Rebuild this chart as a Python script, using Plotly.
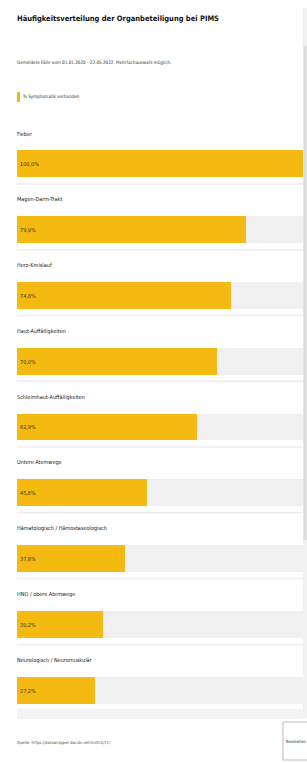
import plotly.graph_objects as go

categories = [
    "Fieber",
    "Magen-Darm-Trakt",
    "Herz-Kreislauf",
    "Haut-Auffälligkeiten",
    "Schleimhaut-Auffälligkeiten",
    "Untere Atemwege",
    "Hämatologisch / Hämostaseologisch",
    "HNO / obere Atemwege",
    "Neurologisch / Neuromuskulär",
]
values = [100.0, 79.9, 74.8, 70.0, 62.9, 45.6, 37.6, 30.2, 27.2]
value_labels = [f"{v:.1f}%".replace(".", ",") for v in values]
track_values = [100.0] * len(categories)

title = "Häufigkeitsverteilung der Organbeteiligung bei PIMS"
subtitle = "Gemeldete Fälle vom 01.01.2020 - 22.05.2022. Mehrfachauswahl möglich."
legend_label = "% Symptomatik vorhanden"
source = "Quelle: https://datawrapper.dwcdn.net/m3tL5/11/"
button_label = "Bearbeiten"

FONT = "DejaVu Sans Condensed, Liberation Sans, sans-serif"
YELLOW = "#f5ba12"
TRACK = "#f0f0f0"

W, H = 307, 763
ML, MR, MT, MB = 17, 4, 131, 40
PW = W - ML - MR
PH = H - MT - MB


def py(pix):
    return (H - MB - pix) / PH


def px(pix):
    return (pix - ML) / PW


fig = go.Figure()
fig.add_trace(go.Bar(
    y=categories, x=track_values, orientation="h", width=0.41,
    marker=dict(color=TRACK, line=dict(width=0)), hoverinfo="skip",
    showlegend=False,
))
fig.add_trace(go.Bar(
    y=categories, x=values, orientation="h", width=0.41,
    marker=dict(color=YELLOW, line=dict(width=0)),
    text=value_labels, textposition="inside", insidetextanchor="start",
    textfont=dict(family=FONT, size=5.5, color="#3a3320"),
    showlegend=False,
))

annotations = []
for c in categories:
    annotations.append(dict(
        x=0, y=c, xref="x", yref="y", text=c, showarrow=False,
        xanchor="left", yanchor="middle", yshift=30, xshift=-2,
        font=dict(family=FONT, size=5.5, color="#1a1a1a"),
    ))

shapes = []
for i in range(len(categories)):
    shapes.append(dict(
        type="line", xref="paper", yref="y", x0=0, x1=px(303),
        y0=i + 0.305, y1=i + 0.305,
        line=dict(color="#eeeeee", width=1.5), layer="below",
    ))

annotations += [
    dict(x=px(15), y=py(19), xref="paper", yref="paper", text=f"<b>{title}</b>",
         showarrow=False, xanchor="left", yanchor="middle",
         font=dict(family=FONT, size=7.5, color="#111111")),
    dict(x=px(15), y=py(62), xref="paper", yref="paper", text=subtitle,
         showarrow=False, xanchor="left", yanchor="middle",
         font=dict(family=FONT, size=4.6, color="#333333")),
    dict(x=px(20.5), y=py(97), xref="paper", yref="paper", text=legend_label,
         showarrow=False, xanchor="left", yanchor="middle",
         font=dict(family=FONT, size=4.6, color="#333333")),
    dict(x=px(15), y=py(742), xref="paper", yref="paper", text=source,
         showarrow=False, xanchor="left", yanchor="middle",
         font=dict(family=FONT, size=4.2, color="#555555")),
    dict(x=px(283.5), y=py(741), xref="paper", yref="paper", text=button_label,
         showarrow=False, xanchor="left", yanchor="middle",
         font=dict(family=FONT, size=4, color="#333333")),
]

shapes += [
    dict(type="rect", xref="paper", yref="paper", x0=px(17), x1=px(20),
         y0=py(102), y1=py(92), fillcolor=YELLOW, line=dict(width=0)),
    dict(type="rect", xref="paper", yref="paper", x0=px(303), x1=px(307),
         y0=py(718), y1=py(8), fillcolor="#f1f1f1", line=dict(width=0)),
    dict(type="rect", xref="paper", yref="paper", x0=px(303.5), x1=px(306.5),
         y0=py(540), y1=py(46), fillcolor="#dcdcdc", line=dict(width=0)),
    dict(type="rect", xref="paper", yref="paper", x0=px(17), x1=px(303),
         y0=py(719), y1=py(709), fillcolor="#f4f4f4", line=dict(width=0)),
    dict(type="rect", xref="paper", yref="paper", x0=px(283), x1=px(308),
         y0=py(760), y1=py(722), fillcolor="#ffffff",
         line=dict(color="#bbbbbb", width=1)),
]

fig.update_layout(
    width=W, height=H,
    margin=dict(l=ML, r=MR, t=MT, b=MB),
    paper_bgcolor="#ffffff", plot_bgcolor="#ffffff",
    barmode="overlay", bargap=0,
    xaxis=dict(range=[0, 100], visible=False, fixedrange=True),
    yaxis=dict(categoryorder="array", categoryarray=categories,
               range=[len(categories) - 0.5, -0.5], visible=False,
               fixedrange=True),
    annotations=annotations, shapes=shapes,
    font=dict(family=FONT),
    uniformtext=dict(minsize=4, mode="show"),
)

fig.write_html(
    "out.html",
    config={"displayModeBar": False},
    post_script="document.body.style.margin='0';document.body.style.padding='0';document.body.style.overflow='hidden';",
)
